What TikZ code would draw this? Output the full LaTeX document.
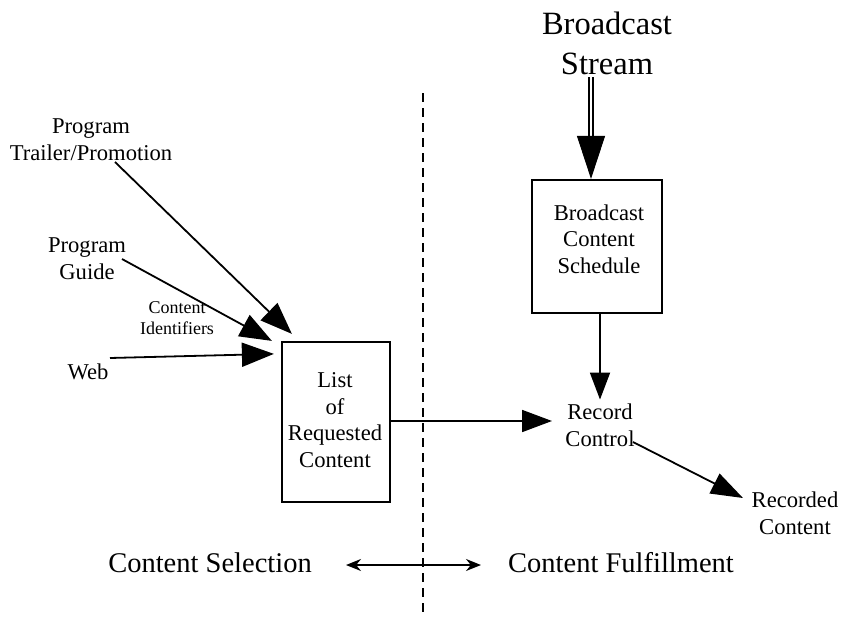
\documentclass[tikz,border=0pt]{standalone}
\usepackage{fontspec}
\setmainfont{Liberation Serif}
\usetikzlibrary{arrows.meta}
\begin{document}
\begin{tikzpicture}[x=1pt,y=-1pt,
  txt/.style={align=center, inner sep=0pt, font=\fontsize{22.6}{26.6}\selectfont},
  small/.style={align=center, inner sep=0pt, font=\fontsize{18}{21}\selectfont},
  big/.style={align=center, inner sep=0pt, font=\fontsize{32.5}{40}\selectfont},
  mid/.style={align=center, inner sep=0pt, font=\fontsize{28.5}{34}\selectfont},
  box/.style={draw, line width=2.2pt, inner sep=0pt},
  arr/.style={line width=1.8pt, -{Triangle[length=32pt,width=24pt]}},
  divider/.style={line width=1.5pt, dash pattern=on 9pt off 6pt},
]
\fill[white] (0,0) rectangle (843,616);
\useasboundingbox (0,0) rectangle (843,616);

% text nodes
\node[big] (stream) at (607,43) {Broadcast\\Stream};
\node[box, minimum width=130pt, minimum height=133pt] (bcs) at (597,246.5) {};
\node[txt] (bcstext) at (599,239) {Broadcast\\Content\\Schedule};
\node[txt] (record) at (600,425) {Record\\Control};
\node[txt] (recorded) at (795,513.5) {Recorded\\Content};
\node[box, minimum width=108pt, minimum height=160pt] (list) at (336,422) {};
\node[txt] (listtext) at (335,420) {List\\of\\Requested\\Content};
\node[txt] (trailer) at (91,140) {Program\\Trailer/Promotion};
\node[txt] (guide) at (87,258.5) {Program\\Guide};
\node[small] (ident) at (177,318.5) {Content\\Identifiers};
\node[txt] (web) at (88,372) {Web};
\node[mid] (sel) at (210,563) {Content Selection};
\node[mid] (ful) at (621,563) {Content Fulfillment};

% connector end points
\coordinate (trs) at (115,162);
\coordinate (gds) at (122,259);
\coordinate (wbs) at (110,358);
\coordinate (trt) at ([shift={(11pt,7pt)}]list.north west);
\coordinate (gdt) at ([shift={(-9pt,0pt)}]list.north west);
\coordinate (wbt) at ([shift={(-7pt,-13pt)}]list.north west);
\coordinate (rcin) at (552,421);
\coordinate (rcout) at (633,442);
\coordinate (rdin) at (743,498);
\coordinate (bsa) at (591,77);
\coordinate (bsb) at (591,137);
\coordinate (dtop) at (423,93);
\coordinate (dbot) at (423,616);
\coordinate (sa) at (346,565);
\coordinate (sb) at (481,565);

% inputs to list
\draw[arr] (trs) -- (trt);
\draw[arr] (gds) -- (gdt);
\draw[arr] (wbs) -- (wbt);

% broadcast stream double arrow
\draw[line width=1.3pt] ([xshift=-2pt]bsa) -- ([xshift=-2pt]bsb);
\draw[line width=1.3pt] ([xshift=2pt]bsa) -- ([xshift=2pt]bsb);
\draw[line width=1pt, -{Triangle[length=43pt,width=28pt]}] (bsb) -- (bsb |- bcs.north);

% schedule to record control
\draw[line width=1.8pt, -{Triangle[length=27pt,width=20pt]}] (bcs.south -| record) -- ([yshift=4pt]record.north);

% list to record control
\draw[line width=1.8pt, -{Triangle[length=30pt,width=22pt]}] (list.east |- rcin) -- (rcin);

% record control to recorded content
\draw[line width=1.8pt, -{Triangle[length=32pt,width=22pt]}] (rcout) -- (rdin);

% divider
\draw[divider] (dtop) -- (dbot);

% bottom double arrow
\draw[line width=1.8pt, {Stealth[length=15pt,width=12pt]}-{Stealth[length=15pt,width=12pt]}] (sa) -- (sb);
\end{tikzpicture}
\end{document}
